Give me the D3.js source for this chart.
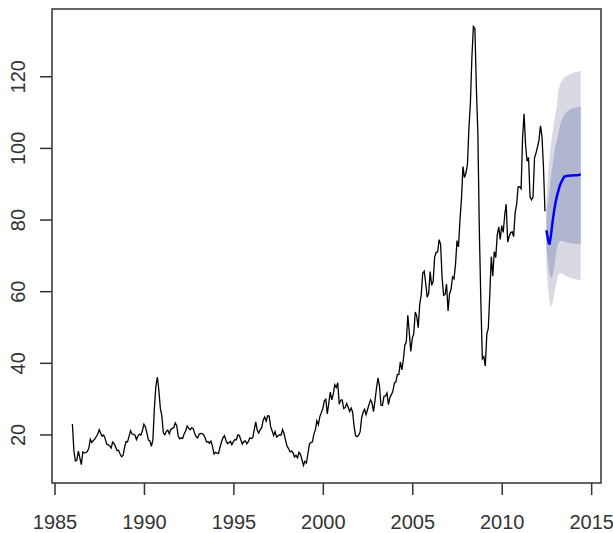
<!DOCTYPE html>
<html>
<head>
<meta charset="utf-8">
<script src="https://cdn.jsdelivr.net/npm/d3@7"></script>
<style>
  body { margin: 0; background: #fff; }
  text { font-family: "Liberation Sans", Arial, sans-serif; }
</style>
</head>
<body>
<div id="chart"></div>
<script>
// monthly price, Jan 1986 .. Jun 2012
var startYear = 1986
var prices = [
  22.93,15.46,12.61,12.84,15.38,13.43,11.59,15.10,14.87,14.90,15.22,16.11,
  18.65,17.75,18.30,18.68,19.44,20.07,21.34,20.31,19.53,19.86,18.85,17.28,
  17.13,16.80,16.20,17.86,17.42,16.53,15.50,15.52,14.54,13.77,14.14,16.38,
  18.02,17.94,19.48,21.07,20.12,20.05,19.78,18.58,19.59,20.10,19.86,21.10,
  22.86,22.11,20.39,18.43,18.20,16.70,18.45,27.31,33.51,36.04,32.33,27.28,
  25.23,20.48,19.90,20.83,21.23,20.19,21.40,21.69,21.89,23.23,22.46,19.50,
  18.79,19.01,18.92,20.23,20.98,22.39,21.78,21.34,21.88,21.69,20.34,19.41,
  19.03,20.09,20.32,20.25,19.95,19.09,17.89,18.01,17.50,18.15,16.61,14.52,
  15.03,14.78,14.68,16.42,17.89,19.06,19.66,18.38,17.45,17.72,18.07,17.16,
  18.04,18.57,18.54,19.90,19.74,18.45,17.33,18.02,18.23,17.43,17.99,19.03,
  18.85,19.09,21.33,23.50,21.17,20.42,21.30,21.90,23.97,24.88,23.71,25.23,
  25.13,22.18,20.97,19.70,20.82,19.26,19.66,19.95,19.80,21.33,20.19,18.33,
  16.72,16.06,15.12,15.35,14.91,13.72,14.17,13.47,15.03,14.46,13.00,11.35,
  12.52,12.01,14.68,17.31,17.72,17.92,20.10,21.28,23.80,22.69,25.00,26.10,
  27.26,29.37,29.84,25.72,28.79,31.82,29.70,31.26,33.88,33.11,34.42,28.44,
  29.59,29.61,27.25,27.49,28.63,27.60,26.43,27.37,26.20,22.17,19.64,19.39,
  19.72,20.72,24.53,26.18,27.04,25.52,26.97,28.39,29.66,28.84,26.35,29.46,
  32.95,35.83,33.51,28.17,28.11,30.66,30.76,31.57,28.31,30.34,31.11,32.13,
  34.31,34.69,36.74,36.75,40.28,38.03,40.78,44.90,45.94,53.28,48.47,43.15,
  46.84,48.15,54.19,52.98,49.83,56.35,59.00,64.99,65.59,62.26,58.32,59.41,
  65.49,61.63,62.69,69.44,70.84,70.95,74.41,73.04,63.80,58.89,59.08,61.96,
  54.51,59.28,60.44,63.98,63.46,67.49,74.12,72.36,79.92,85.80,94.77,91.69,
  92.97,95.39,105.45,112.58,125.40,133.88,133.37,116.67,104.11,76.61,57.31,41.12,
  41.71,39.09,47.94,49.65,59.03,69.64,64.15,71.05,69.41,75.72,77.99,74.47,
  78.33,76.39,81.20,84.29,73.74,75.34,76.32,76.60,75.24,81.89,84.25,89.15,
  89.17,88.58,102.86,109.53,100.90,96.26,97.30,86.33,85.52,86.32,97.16,98.56,
  100.27,102.20,106.16,103.32,94.66,82.30
]

// forecast, Jul 2012 .. Jun 2014
var fcStart = 2012.5
var fcMean = [77,74.5,73,75.5,79,82,84.5,86.5,88,89.5,90.5,91.3,92,92.1,92.2,92.2,92.3,92.3,92.3,92.4,92.4,92.4,92.5,92.5]
var fcLo80 = [72,68,65,63.5,64,66,69,72,73.5,74,74,74,73.8,73.7,73.6,73.5,73.4,73.3,73.3,73.2,73.2,73.1,73.1,73]
var fcHi80 = [82.5,85,88,92,95,98,100.5,102,104,106,107.5,108.5,109.2,109.8,110.2,110.5,110.8,111,111.1,111.2,111.3,111.4,111.4,111.5]
var fcLo95 = [67,61,57,55.5,56.5,58.5,61,63,64.5,65,65,64.8,64.5,64.3,64.1,64,63.8,63.6,63.5,63.4,63.3,63.2,63.1,63]
var fcHi95 = [86,92,97,101,104,107,109.5,112,116,117.5,118.5,119.2,119.6,120,120.2,120.4,120.6,120.8,121,121.1,121.2,121.3,121.4,121.5]

var xTicks = [1985, 1990, 1995, 2000, 2005, 2010, 2015]
var yTicks = [20, 40, 60, 80, 100, 120]

var width = 613, height = 533
var plotL = 52, plotR = 601, plotT = 9, plotB = 483

var svg = d3.select("#chart").append("svg")
    .attr("width", width)
    .attr("height", height)

var x = d3.scaleLinear().domain([1984.86, 2015.55]).range([plotL, plotR])
var y = d3.scaleLinear().domain([6.45, 138.78]).range([plotB, plotT])

var obs = prices.map(function(v, i) { return {t: startYear + i / 12, v: v} })
var fc = fcMean.map(function(v, i) {
  return {t: fcStart + i / 12, m: v, lo80: fcLo80[i], hi80: fcHi80[i], lo95: fcLo95[i], hi95: fcHi95[i]}
})

// prediction bands
var band95 = d3.area().x(function(d) { return x(d.t) }).y0(function(d) { return y(d.lo95) }).y1(function(d) { return y(d.hi95) })
var band80 = d3.area().x(function(d) { return x(d.t) }).y0(function(d) { return y(d.lo80) }).y1(function(d) { return y(d.hi80) })
svg.append("path").datum(fc).attr("d", band95).attr("fill", "#d9d9e3")
svg.append("path").datum(fc).attr("d", band80).attr("fill", "#b0b5d0")

// series
svg.append("path").datum(obs)
    .attr("d", d3.line().x(function(d) { return x(d.t) }).y(function(d) { return y(d.v) }))
    .attr("fill", "none").attr("stroke", "#000").attr("stroke-width", 1.3)

svg.append("path").datum(fc)
    .attr("d", d3.line().x(function(d) { return x(d.t) }).y(function(d) { return y(d.m) }))
    .attr("fill", "none").attr("stroke", "#0000ff").attr("stroke-width", 2.5)

// box
svg.append("rect")
    .attr("x", plotL).attr("y", plotT)
    .attr("width", plotR - plotL).attr("height", plotB - plotT)
    .attr("fill", "none").attr("stroke", "#333").attr("stroke-width", 1.5)

// x axis
var xa = svg.append("g").attr("transform", "translate(0," + plotB + ")")
    .call(d3.axisBottom(x).tickValues(xTicks).tickFormat(d3.format("d")).tickSize(12).tickPadding(20))
xa.select(".domain").remove()
xa.selectAll("line").attr("stroke", "#333").attr("stroke-width", 1.5)
xa.selectAll("text").attr("font-size", 20).attr("fill", "#333")
    .attr("font-family", "Liberation Sans, Arial, sans-serif")

// y axis, labels turned like R
var ya = svg.append("g").attr("transform", "translate(" + plotL + ",0)")
    .call(d3.axisLeft(y).tickValues(yTicks).tickSize(12))
ya.select(".domain").remove()
ya.selectAll("line").attr("stroke", "#333").attr("stroke-width", 1.5)
ya.selectAll("text").remove()
ya.selectAll(".tick").append("text")
    .attr("transform", "translate(-27,0) rotate(-90)")
    .attr("text-anchor", "middle")
    .attr("font-size", 20)
    .attr("fill", "#333")
    .text(function(d) { return d })
</script>
</body>
</html>
